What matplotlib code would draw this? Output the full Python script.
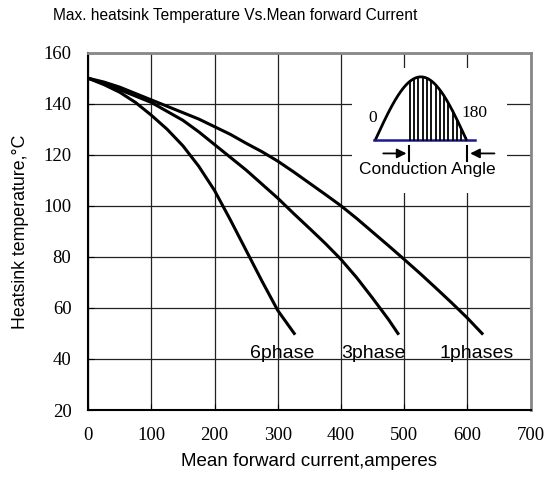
import numpy as np
import matplotlib
matplotlib.use("Agg")
import matplotlib.pyplot as plt

# curve readings (current A, heatsink temp C)
i_6ph = [0, 25, 50, 75, 100, 125, 150, 175, 200, 225, 250, 275, 300, 326]
t_6ph = [150, 147.5, 144.5, 140.5, 135.5, 130, 123.5, 115.5, 106, 94.5, 82.5, 70.5, 59, 50]

i_3ph = [0, 25, 50, 75, 100, 125, 150, 175, 200, 225, 250, 275, 300,
         325, 350, 375, 400, 425, 450, 475, 490]
t_3ph = [150, 148, 145.5, 143, 140.5, 137, 133.5, 129, 124, 119, 114, 108.5, 103,
         97, 91.2, 85.3, 79, 71.8, 63.8, 55.5, 50]

i_1ph = [0, 25, 50, 75, 100, 125, 150, 175, 200, 225, 250, 275, 300,
         325, 350, 375, 400, 425, 450, 475, 500, 525, 550, 575, 600, 623]
t_1ph = [150, 148.5, 146.5, 144, 141.5, 139, 136.5, 134, 131, 128, 124.5, 121.2, 117.5,
         113.3, 108.9, 104.5, 100, 95, 89.7, 84.4, 79, 73.5, 67.8, 62, 56, 50]

curve_labels = ["6phase", "3phase", "1phases"]
label_x = [307, 451, 614]
label_y = 42.3

x_ticks = [0, 100, 200, 300, 400, 500, 600, 700]
y_ticks = [20, 40, 60, 80, 100, 120, 140, 160]

serif = "Liberation Serif"
sans = "Liberation Sans"

fig = plt.figure(figsize=(5.54, 4.97), dpi=100)
ax = fig.add_axes([0.159, 0.175, 0.799, 0.719])

for xs, ys in [(i_6ph, t_6ph), (i_3ph, t_3ph), (i_1ph, t_1ph)]:
    ax.plot(xs, ys, color="black", lw=2.2, zorder=3, solid_joinstyle="round")

for txt, lx in zip(curve_labels, label_x):
    ax.text(lx, label_y, txt, ha="center", va="center", fontsize=14,
            family=sans, zorder=4)

ax.set_xlim(0, 700)
ax.set_ylim(20, 160)
ax.set_xticks(x_ticks)
ax.set_yticks(y_ticks)
ax.grid(True, color="#222222", lw=0.9)
ax.tick_params(direction="in", length=4, color="black", pad=12)
for lab in ax.get_xticklabels() + ax.get_yticklabels():
    lab.set_family(serif)
    lab.set_fontsize(13.5)

for side in ["left", "bottom"]:
    ax.spines[side].set_color("black")
    ax.spines[side].set_linewidth(1.5)
for side in ["top", "right"]:
    ax.spines[side].set_color("#888888")
    ax.spines[side].set_linewidth(2)

ax.set_xlabel("Mean forward current,amperes", family=sans, fontsize=13.5, labelpad=7)
ax.set_ylabel("Heatsink temperature,°C", family=sans, fontsize=12.8, labelpad=10)

fig.text(0.424, 0.968, "Max. heatsink Temperature Vs.Mean forward Current",
         ha="center", va="center", family=sans, fontsize=11.2)

# inset: conduction angle sketch
ins = ax.inset_axes([418, 105, 245, 49], transform=ax.transData, zorder=2.5)
ins.set_facecolor("white")
ins.set_xlim(-45.5, 261)
ins.set_ylim(-0.847, 1.141)
ins.set_xticks([])
ins.set_yticks([])
for s in ins.spines.values():
    s.set_visible(False)

deg = np.linspace(0, 180, 181)
ins.plot(deg, np.sin(np.radians(deg)), color="black", lw=2)
ins.plot([-3, 198], [0, 0], color="#1a1a8c", lw=1.8)
for d in np.arange(68, 180, 8.5):
    ins.plot([d, d], [0, np.sin(np.radians(d))], color="black", lw=1.3)

ay = -0.217
ins.annotate("", xy=(67, ay), xytext=(10, ay),
             arrowprops=dict(arrowstyle="-|>", color="black", lw=1.3, mutation_scale=14))
ins.annotate("", xy=(182, ay), xytext=(241, ay),
             arrowprops=dict(arrowstyle="-|>", color="black", lw=1.3, mutation_scale=14))
ins.plot([67, 67], [ay - 0.12, ay + 0.12], color="black", lw=1.5)
ins.plot([182, 182], [ay - 0.12, ay + 0.12], color="black", lw=1.5)

ins.text(103, -0.48, "Conduction Angle", ha="center", va="center", family=sans, fontsize=12.5)
ins.text(-6, 0.35, "0", ha="center", va="center", family=serif, fontsize=12.5)
ins.text(196, 0.43, "180", ha="center", va="center", family=serif, fontsize=12.5)

fig.savefig("out.png", dpi=100)
